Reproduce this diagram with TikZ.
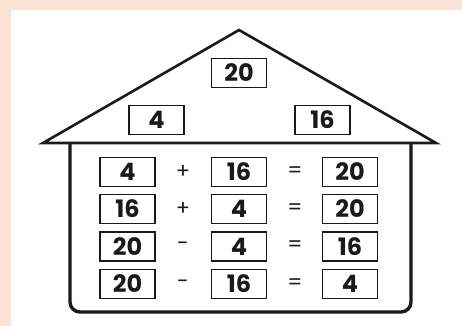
\documentclass[tikz,border=0pt]{standalone}
\usepackage{fontspec}
\setsansfont{Poppins}
\usetikzlibrary{positioning}
\definecolor{housePeach}{HTML}{FBE4D5}
\definecolor{houseInk}{HTML}{1A1A1A}
\tikzset{
  every node/.style={font=\sffamily\bfseries\fontsize{24}{24}\selectfont, text=houseInk},
  numbox/.style={
    draw=houseInk,
    line width=1.1pt,
    minimum width=55pt,
    minimum height=29pt,
    inner sep=0pt
  },
  opsign/.style={font=\sffamily\fontsize{21}{21}\selectfont, inner sep=0pt},
  roof/.style={draw=houseInk, line width=2.6pt, line join=miter},
  wall/.style={draw=houseInk, line width=3.4pt, rounded corners=10pt}
}

\begin{document}
\begin{tikzpicture}[x=1pt, y=-1pt]
  % page and card
  \useasboundingbox (0,0) rectangle (462,326);
  \fill[housePeach] (0,0) rectangle (462,326);
  \fill[white] (11,10) rectangle (462,326);

  % roof
  \coordinate (apex) at (239,30);
  \coordinate (eaveL) at (43,143);
  \coordinate (eaveR) at (436,143);
  \draw[roof] (eaveL) -- (apex) -- (eaveR) -- cycle;

  % walls
  \coordinate (wallTL) at (70,143);
  \coordinate (wallBL) at (70,312);
  \coordinate (wallBR) at (411,312);
  \coordinate (wallTR) at (411,143);
  \draw[wall] (wallTL) -- (wallBL) -- (wallBR) -- (wallTR);

  % number bond in the roof
  \node[numbox] (whole) at (239,73) {20};
  \node[numbox] (partA) at (156.5,120) {4};
  \node[numbox] (partB) at (322.5,120) {16};

  % fact family
  \node[numbox] (r1a) at (127.5,172) {4};
  \node[numbox] (r1b) at (239,172) {16};
  \node[numbox] (r1c) at (350,172) {20};
  \node[opsign] (r1op) at (183,172) {+};
  \node[opsign] (r1eq) at (295,172) {=};

  \node[numbox] (r2a) at (127.5,209) {16};
  \node[numbox] (r2b) at (239,209) {4};
  \node[numbox] (r2c) at (350,209) {20};
  \node[opsign] (r2op) at (183,209) {+};
  \node[opsign] (r2eq) at (295,209) {=};

  \node[numbox] (r3a) at (127.5,246.5) {20};
  \node[numbox] (r3b) at (239,246.5) {4};
  \node[numbox] (r3c) at (350,246.5) {16};
  \node[opsign] (r3op) at (183,246.5) {-};
  \node[opsign] (r3eq) at (295,246.5) {=};

  \node[numbox] (r4a) at (127.5,284) {20};
  \node[numbox] (r4b) at (239,284) {16};
  \node[numbox] (r4c) at (350,284) {4};
  \node[opsign] (r4op) at (183,284) {-};
  \node[opsign] (r4eq) at (295,284) {=};
\end{tikzpicture}
\end{document}
